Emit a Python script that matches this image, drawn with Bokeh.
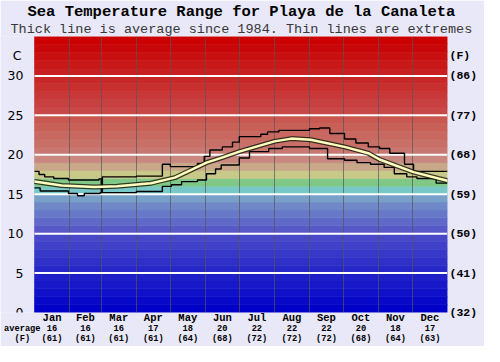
from bokeh.plotting import figure
from bokeh.models import Range1d, FixedTicker, LinearAxis, Title
from bokeh.core.properties import value
from bokeh.embed import file_html
from bokeh.resources import INLINE

# ---------------- data ----------------
months = ["Jan", "Feb", "Mar", "Apr", "May", "Jun", "Jul", "Aug", "Sep", "Oct", "Nov", "Dec"]
month_days = [31, 28, 31, 30, 31, 30, 31, 31, 30, 31, 30, 31]
avg_c = [16, 16, 16, 17, 18, 20, 22, 22, 22, 20, 18, 17]
avg_f = [61, 61, 61, 61, 64, 68, 72, 72, 72, 68, 64, 63]

c_ticks = [0, 5, 10, 15, 20, 25, 30]
f_labels = ["(32)", "(41)", "(50)", "(59)", "(68)", "(77)", "(86)"]

# average line (day of year, deg C)
avg_day = [0, 24, 53, 73, 103, 124, 152, 167, 181, 212, 227, 244, 274, 295, 305, 335, 365]
avg_temp = [16.6, 16.1, 15.9, 16.0, 16.4, 17.1, 19.0, 19.7, 20.4, 21.7, 22.05, 21.9, 21.0, 20.2, 19.4, 17.8, 16.7]

# extremes (step lines)
max_day = [0, 4, 9, 17, 30, 57, 59, 60, 90, 113, 120, 144, 150, 155, 166, 175, 181, 200, 206,
           216, 243, 252, 261, 274, 284, 295, 305, 314, 327, 335, 365]
max_temp = [17.9, 17.5, 17.2, 17.0, 16.8, 16.95, 15.3, 17.2, 17.3, 18.8, 18.5, 18.9, 19.8, 20.6, 21.0,
            21.6, 22.3, 22.6, 22.9, 23.1, 23.3, 23.4, 22.7, 22.0, 21.5, 21.0, 20.8, 20.2, 18.8, 17.9, 17.9]
min_day = [0, 5, 30, 38, 44, 58, 90, 113, 121, 130, 144, 152, 160, 165, 181, 190, 207, 219, 243,
           259, 274, 285, 297, 309, 318, 329, 338, 355, 365]
min_temp = [15.8, 15.4, 15.1, 14.8, 15.1, 15.2, 15.35, 16.0, 16.2, 16.6, 16.8, 17.6, 18.2, 18.7, 19.6,
            20.4, 20.8, 21.0, 20.8, 19.5, 19.3, 19.0, 18.8, 18.4, 17.6, 17.2, 17.0, 16.4, 16.4]

# colour bands, one per degree from 0 to 35
band_colors = [
    "#0000c8", "#0808c8", "#1010c8", "#1818c8", "#2020c8", "#2828c8", "#3030c8", "#3838c8",
    "#4040c8", "#4848c8", "#5858c8", "#6068c8", "#6878c8", "#7088c8", "#78a0c8", "#78c8c8",
    "#80c888", "#c8c888", "#c8a888", "#c88880", "#c87870", "#c87068", "#c86860", "#c86058",
    "#c85850", "#c84848", "#c84040", "#c83838", "#c83030", "#c82828", "#c82020", "#c81818",
    "#c81010", "#c80808", "#cc0000",
]

# ---------------- layout helpers ----------------
bounds = [0]
for d in month_days:
    bounds.append(bounds[-1] + d)
mids = [(bounds[i] + bounds[i + 1]) / 2 for i in range(12)]

W, H = 484, 346
LEFT_PX, RIGHT_PX = 34, 37          # where the coloured area starts / space on the right
px_per_day = (W - LEFT_PX - RIGHT_PX) / 365.0
x_start = -LEFT_PX / px_per_day      # frame extends left to hold the C labels
lab_x = -11.0 / px_per_day           # right edge of the C labels
c_x = -17.5 / px_per_day             # "C" header
avg_lab_x = -12.2 / px_per_day       # "average" / "(F)" under the axis

BG = "#e8e8f8"
MONO = "Liberation Mono"

p = figure(width=W, height=H, output_backend="svg", toolbar_location=None,
           x_range=Range1d(x_start, 365), y_range=Range1d(0, 35), y_axis_location="right",
           min_border_left=0, min_border_right=RIGHT_PX, min_border_top=34, min_border_bottom=33)
p.border_fill_color = BG
p.background_fill_color = BG
p.outline_line_color = None

# titles
sub = Title(text="Thick line is average since 1984. Thin lines are extremes", align="left",
            text_font=MONO, text_font_size="13.5px", text_font_style="normal", text_color="#383838",
            standoff=-1, offset=10)
main = Title(text="Sea Temperature Range for Playa de la Canaleta", align="left",
             text_font=MONO, text_font_size="15.5px", text_font_style="bold", text_color="#000000",
             standoff=0, offset=27)
p.add_layout(sub, "above")
p.add_layout(main, "above")

# colour bands
lv = list(range(35))
p.quad(left=0, right=365, bottom=lv, top=[v + 1 for v in lv], fill_color=band_colors,
       line_color=band_colors, line_width=0.6, level="image")

# grids
p.ygrid.visible = False
p.xgrid.ticker = FixedTicker(ticks=bounds[1:-1])
p.xgrid.grid_line_color = "#555555"
p.xgrid.grid_line_alpha = 0.7
p.xgrid.grid_line_width = 1
p.segment(x0=0, x1=365, y0=c_ticks[1:], y1=c_ticks[1:], line_color="#ffffff", line_width=2)

# data lines
p.step(max_day, max_temp, mode="after", line_color="#000000", line_width=1.4)
p.step(min_day, min_temp, mode="after", line_color="#000000", line_width=1.4)
p.line(avg_day, avg_temp, line_color="#202010", line_width=5, line_alpha=0.85)
p.line(avg_day, avg_temp, line_color="#ffffc0", line_width=2.5)

# left (Celsius) labels
p.text(x=lab_x, y=c_ticks, text=[str(v) for v in c_ticks], text_align="right",
       text_baseline="middle", text_font=value("DejaVu Sans"), text_font_size="12.5px",
       text_color="#000000")
p.text(x=[c_x], y=[32.6], text=["C"], text_align="center", text_baseline="middle",
       text_font=value("DejaVu Sans"), text_font_size="12.5px", text_color="#000000")

# right (Fahrenheit) axis
ry = p.yaxis[0]
ry.ticker = FixedTicker(ticks=c_ticks + [32.6])
ry.major_label_overrides = dict(zip(c_ticks, f_labels))
ry.major_label_overrides[32.6] = "(F)"
ry.major_label_text_font = MONO
ry.major_label_text_font_style = "bold"
ry.major_label_text_font_size = "11.5px"
ry.major_label_text_color = "#000000"
ry.axis_line_color = None
ry.major_tick_line_color = None
ry.minor_tick_line_color = None
ry.major_tick_out = 0
ry.major_label_standoff = 2

# bottom axes: month names, average C, average F
def style_bottom(ax, size, standoff):
    ax.axis_line_color = None
    ax.major_tick_line_color = None
    ax.minor_tick_line_color = None
    ax.major_tick_out = 0
    ax.major_tick_in = 0
    ax.major_label_text_font = MONO
    ax.major_label_text_font_style = "bold"
    ax.major_label_text_font_size = size
    ax.major_label_text_color = "#000000"
    ax.major_label_standoff = standoff

bx = p.xaxis[0]
bx.ticker = FixedTicker(ticks=mids)
bx.major_label_overrides = dict(zip(mids, months))
style_bottom(bx, "10.5px", -1)

bc = LinearAxis(ticker=FixedTicker(ticks=[avg_lab_x] + mids))
bc.major_label_overrides = dict(zip([avg_lab_x] + mids, ["average"] + [str(v) for v in avg_c]))
style_bottom(bc, "8.7px", -3)
p.add_layout(bc, "below")

bf = LinearAxis(ticker=FixedTicker(ticks=[avg_lab_x] + mids))
bf.major_label_overrides = dict(zip([avg_lab_x] + mids, ["(F)"] + ["(%d)" % v for v in avg_f]))
style_bottom(bf, "8.7px", -3)
p.add_layout(bf, "below")

open("out.html", "w").write(file_html(p, INLINE))
